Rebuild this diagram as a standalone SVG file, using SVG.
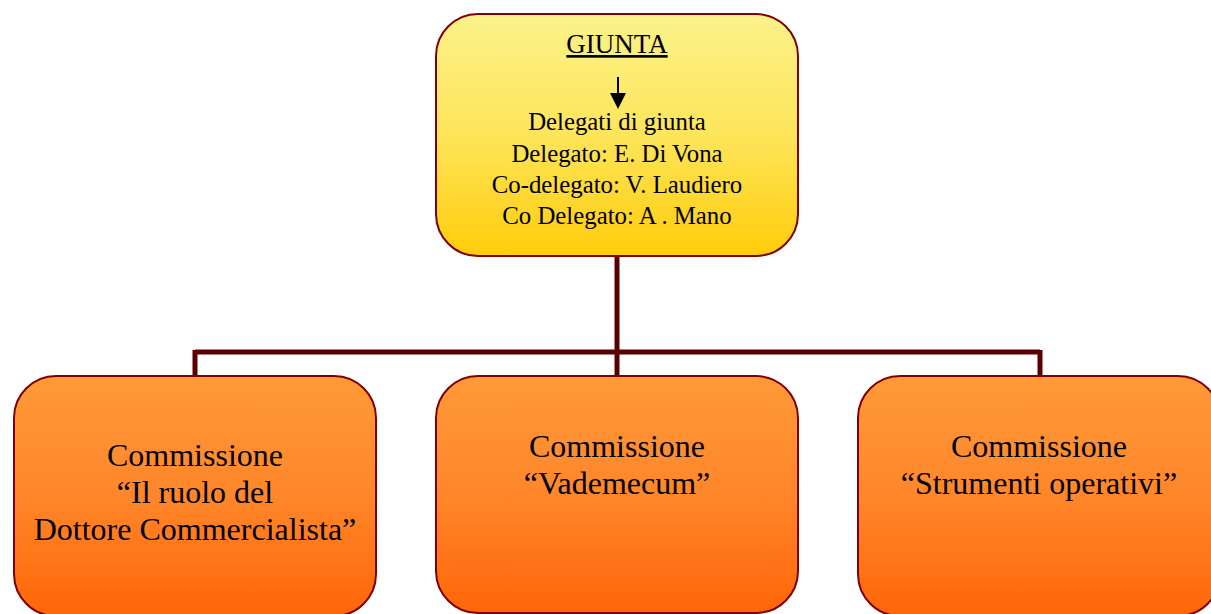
<svg xmlns="http://www.w3.org/2000/svg" width="1211" height="614" viewBox="0 0 1211 614">
<defs>
<linearGradient id="gy" x1="0" y1="0" x2="0" y2="1">
<stop offset="0" stop-color="#fbf28a"/>
<stop offset="0.5" stop-color="#fde55a"/>
<stop offset="1" stop-color="#ffcc0a"/>
</linearGradient>
<linearGradient id="go" x1="0" y1="0" x2="0" y2="1">
<stop offset="0" stop-color="#ff9a38"/>
<stop offset="0.5" stop-color="#ff862a"/>
<stop offset="1" stop-color="#ff6608"/>
</linearGradient>
</defs>
<style>
.box{stroke:#800000;stroke-width:2}
.top{fill:url(#gy)}
.bot{fill:url(#go)}
.t{font-family:"Liberation Serif","Times New Roman",serif;fill:#000;text-anchor:middle}
.s24{font-size:24.8px}
.s31{font-size:32px}
.conn{stroke:#5a0000;stroke-width:5;fill:none}
</style>
<rect width="1211" height="614" fill="#fff"/>
<g id="connectors">
<path class="conn" d="M617,256 V352"/>
<path class="conn" d="M195,352 H1040"/>
<path class="conn" d="M195,350 V377"/>
<path class="conn" d="M617,352 V377"/>
<path class="conn" d="M1040,350 V377"/>
</g>
<g id="giunta">
<rect class="box top" x="436" y="14" width="362" height="242" rx="42" ry="42"/>
<text class="t" x="617" y="53" font-size="27" text-decoration="underline">GIUNTA</text>
<line x1="618" y1="77" x2="618" y2="95" stroke="#000" stroke-width="2"/>
<path d="M610,93 L626,93 L618,109 z" fill="#000"/>
<text class="t s24" x="617" y="130">Delegati di giunta</text>
<text class="t s24" x="617" y="161.5">Delegato: E. Di Vona</text>
<text class="t s24" x="617" y="192.5">Co-delegato: V. Laudiero</text>
<text class="t s24" x="617" y="223.5">Co Delegato: A . Mano</text>
</g>
<g id="comm-ruolo">
<rect class="box bot" x="14" y="376" width="362" height="240" rx="42" ry="42"/>
<text class="t s31" x="195" y="466">Commissione</text>
<text class="t s31" x="195" y="503">“Il ruolo del</text>
<text class="t s31" x="195" y="540">Dottore Commercialista”</text>
</g>
<g id="comm-vademecum">
<rect class="box bot" x="436" y="376" width="362" height="237" rx="42" ry="42"/>
<text class="t s31" x="617" y="457">Commissione</text>
<text class="t s31" x="617" y="494">“Vademecum”</text>
</g>
<g id="comm-strumenti">
<rect class="box bot" x="858" y="376" width="362" height="240" rx="42" ry="42"/>
<text class="t s31" x="1039" y="457">Commissione</text>
<text class="t s31" x="1039" y="494">“Strumenti operativi”</text>
</g>
</svg>
